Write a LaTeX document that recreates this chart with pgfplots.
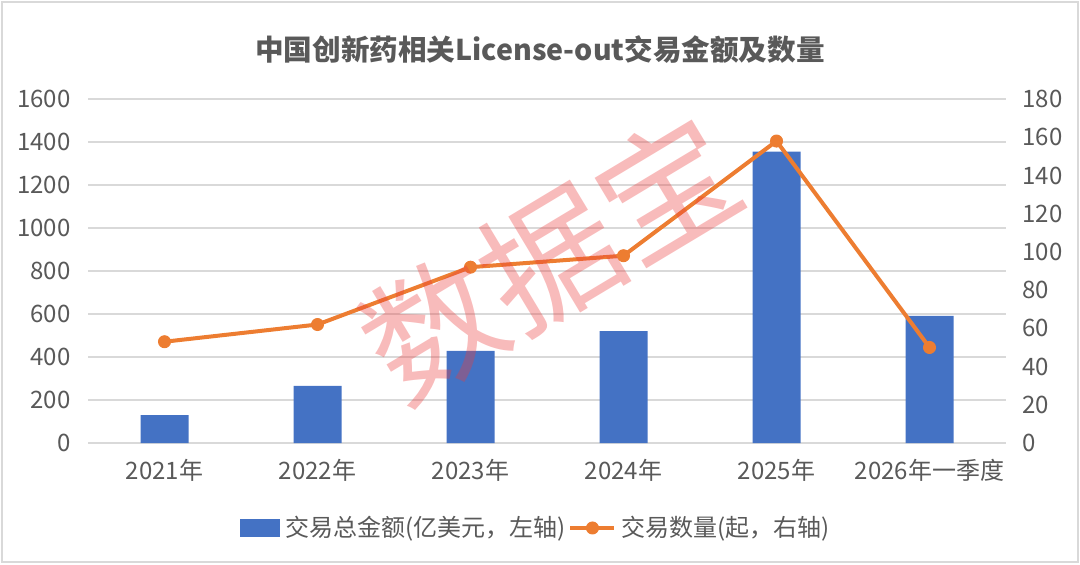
\documentclass[border=0pt]{standalone}
\usepackage{pgfplots}
\pgfplotsset{compat=1.18}
\usepackage{fontspec}
\setmainfont{Noto Sans CJK SC}
\definecolor{barblue}{HTML}{4472C4}
\definecolor{lineorange}{HTML}{ED7D31}
\definecolor{gridgray}{HTML}{D9D9D9}
\definecolor{txtgray}{HTML}{595959}
\definecolor{wm}{HTML}{EB3C3C}
\pgfplotsset{
  linekey/.style={legend image code/.code={\draw[mark repeat=2,mark phase=2,##1] plot coordinates {(-1.5pt,0pt) (9.5pt,0pt) (20.5pt,0pt)};}},
  barkey/.style={legend image code/.code={\fill[barblue] (-1.5pt,-4.25pt) rectangle (18pt,4.25pt);}},
}
\begin{document}
\begin{tikzpicture}
\useasboundingbox (0pt,0pt) rectangle (540pt,282pt);
\draw[gridgray, line width=0.8pt] (1pt,1pt) rectangle (539pt,281pt);
\begin{axis}[
  at={(44pt,60.5pt)}, anchor=south west,
  scale only axis, width=459pt, height=172pt,
  xmin=-0.5, xmax=5.5, ymin=0, ymax=1600,
  ytick={0,200,...,1600},
  xtick={0,...,5},
  xticklabels={2021年,2022年,2023年,2024年,2025年,2026年一季度},
  ymajorgrids, grid style={gridgray, line width=0.75pt},
  axis line style={draw=none},
  major tick length=0pt,
  tick label style={font=\fontsize{12}{14}\selectfont, text=txtgray},
  yticklabel style={anchor=east, inner sep=0pt, xshift=-8.5pt},
  xticklabel style={anchor=north, inner sep=0pt, yshift=-8pt},
  /pgf/number format/assume math mode=true,
  /pgf/number format/1000 sep={},
  scaled y ticks=false,
]
\addplot[ybar, bar width=24pt, fill=barblue, draw=none] coordinates {
  (0,130) (1,266) (2,428) (3,520) (4,1355) (5,591)
};
\end{axis}
\begin{axis}[
  at={(44pt,60.5pt)}, anchor=south west,
  scale only axis, width=459pt, height=172pt,
  xmin=-0.5, xmax=5.5, ymin=0, ymax=180,
  ytick={0,20,...,180},
  axis y line*=right,
  axis x line=none,
  axis line style={draw=none},
  major tick length=0pt,
  tick label style={font=\fontsize{12}{14}\selectfont, text=txtgray},
  yticklabel style={anchor=west, inner sep=0pt, xshift=8pt},
  /pgf/number format/assume math mode=true,
  /pgf/number format/1000 sep={},
  legend columns=2,
  legend style={draw=none, fill=none, at={(0.4897,-0.247)}, anchor=center,
    font=\fontsize{12}{14}\selectfont, text=txtgray, inner sep=0pt,
    /tikz/every even column/.append style={column sep=-1pt},
    nodes={inner sep=2.5pt}},
]
\addlegendimage{barkey}
\addlegendentry{交易总金额(亿美元，左轴)}
\addplot[lineorange, line width=2pt, mark=*, mark size=3pt,
  mark options={fill=lineorange, line width=0.5pt}, linekey]
  coordinates {(0,53) (1,62) (2,92) (3,98) (4,158) (5,50)};
\addlegendentry{交易数量(起，右轴)}
\end{axis}
\node[font=\bfseries\fontsize{14.3}{17}\selectfont, text=txtgray] at (270pt,257pt) {中国创新药相关License-out交易金额及数量};
\node[rotate=31, text=wm, text opacity=0.35, font=\fontsize{68}{68}\selectfont] at (275pt,153pt) {数据宝};
\end{tikzpicture}
\end{document}
